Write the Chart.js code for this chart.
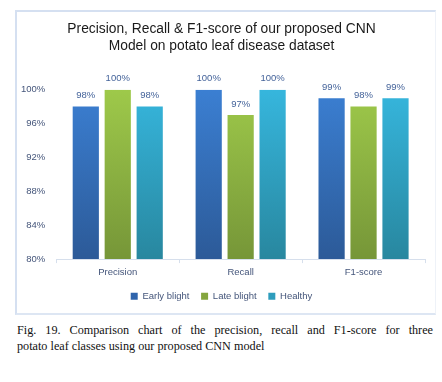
<!DOCTYPE html>
<html>
<head>
<meta charset="utf-8">
<script src="https://cdn.jsdelivr.net/npm/chart.js@4.4.1/dist/chart.umd.min.js"></script>
<style>
  html, body { margin: 0; padding: 0; background: #ffffff; }
  body { width: 442px; height: 382px; position: relative; overflow: hidden; }
  #box { position: absolute; left: 15px; top: 10px; width: 418px; height: 301px;
         border-left: 2px solid #d5e0f1; border-top: 2px solid #d5e0f1;
         border-right: 1px solid #eef2f8; border-bottom: 2px solid #dde6f3; }
  #wrap { position: absolute; left: 0; top: 0; width: 418px; height: 301px; }
  .cap { position: absolute; left: 17px; width: 416px; font-family: "Liberation Serif", "Times New Roman", serif;
         font-size: 12.2px; color: #111; white-space: nowrap; }
  #cap1 { top: 323px; text-align: justify; text-align-last: justify; white-space: normal; }
  #cap2 { top: 339px; }
</style>
</head>
<body>
<div id="box"><div id="wrap"><canvas id="c"></canvas></div></div>
<div class="cap" id="cap1">Fig. 19. Comparison chart of the precision, recall and F1-score for three</div>
<div class="cap" id="cap2">potato leaf classes using our proposed CNN model</div>
<script>
const categories = ["Precision", "Recall", "F1-score"];
const seriesNames = ["Early blight", "Late blight", "Healthy"];
const earlyBlight = [98, 100, 99];
const lateBlight = [100, 97, 98];
const healthy = [98, 100, 99];
const yTicks = [80, 84, 88, 92, 96, 100];
const titleLines = ["Precision, Recall & F1-score of our proposed CNN", "Model on potato leaf disease dataset"];

const palette = [
  { top: "#3b7fd2", bottom: "#2c5a98", legend: "#2f64ac" },
  { top: "#9ec94a", bottom: "#769638", legend: "#84a53e" },
  { top: "#36b6dd", bottom: "#28879f", legend: "#2e9dbd" }
];

function grad(i) {
  return function(ctx) {
    const chart = ctx.chart;
    const area = chart.chartArea;
    if (!area) return palette[i].top;
    const g = chart.ctx.createLinearGradient(0, area.top, 0, area.bottom);
    g.addColorStop(0, palette[i].top);
    g.addColorStop(1, palette[i].bottom);
    return g;
  };
}

const labelPlugin = {
  id: "valueLabels",
  afterDatasetsDraw(chart) {
    const ctx = chart.ctx;
    ctx.save();
    ctx.font = "9.5px 'Liberation Sans', Arial, sans-serif";
    ctx.fillStyle = "#44639a";
    ctx.textAlign = "center";
    ctx.textBaseline = "middle";
    chart.data.datasets.forEach((ds, di) => {
      chart.getDatasetMeta(di).data.forEach((bar, i) => {
        ctx.fillText(ds.data[i] + "%", bar.x, bar.y - 11);
      });
    });
    ctx.restore();
  }
};

const data = {
  labels: categories,
  datasets: [earlyBlight, lateBlight, healthy].map((vals, i) => ({
    label: seriesNames[i],
    data: vals,
    backgroundColor: grad(i),
    borderWidth: 0,
    categoryPercentage: 0.78,
    barPercentage: 0.82
  }))
};

new Chart(document.getElementById("c"), {
  type: "bar",
  data: data,
  plugins: [labelPlugin],
  options: {
    responsive: true,
    maintainAspectRatio: false,
    animation: false,
    layout: { padding: { left: 1, right: 10, top: 0, bottom: 2 } },
    plugins: {
      title: {
        display: true,
        text: titleLines,
        color: "#1a1a1a",
        font: { family: "'Liberation Sans', Arial, sans-serif", size: 13.8, weight: "normal", lineHeight: 1.22 },
        padding: { top: 9, bottom: 35 }
      },
      legend: {
        position: "bottom",
        labels: {
          boxWidth: 7, boxHeight: 7, padding: 9,
          color: "#44557a",
          font: { family: "'Liberation Sans', Arial, sans-serif", size: 9.5 },
          generateLabels(chart) {
            return chart.data.datasets.map((ds, i) => ({
              text: i < 2 ? ds.label + "\u00a0" : ds.label,
              fillStyle: palette[i].legend, strokeStyle: palette[i].legend,
              lineWidth: 0, datasetIndex: i, fontColor: "#44557a"
            }));
          }
        }
      },
      tooltip: { enabled: false }
    },
    scales: {
      x: {
        grid: { display: true, drawOnChartArea: false, offset: true, tickLength: 4, color: "#d6dfec" },
        border: { display: true, color: "#d6dfec", width: 1 },
        ticks: { color: "#44557a", font: { family: "'Liberation Sans', Arial, sans-serif", size: 9.5 }, padding: 4 }
      },
      y: {
        min: 80, max: 100,
        afterBuildTicks(axis) { axis.ticks = yTicks.map(v => ({ value: v })); },
        grid: { display: false },
        border: { display: false },
        ticks: {
          color: "#44557a",
          font: { family: "'Liberation Sans', Arial, sans-serif", size: 9.5 },
          padding: 3,
          callback: v => v + "%"
        }
      }
    }
  }
});
</script>
</body>
</html>
